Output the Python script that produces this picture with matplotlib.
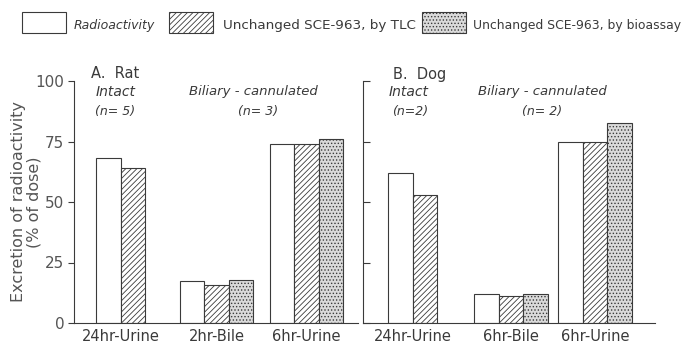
import numpy as np
import matplotlib.pyplot as plt

series = ['Radioactivity', 'Unchanged SCE-963, by TLC', 'Unchanged SCE-963, by bioassay']

rat_labels = ['24hr-Urine', '2hr-Bile', '6hr-Urine']
rat_radio = [68, 17.5, 74]
rat_tlc = [64, 15.7, 74]
rat_bio = [None, 17.6, 76]

dog_labels = ['24hr-Urine', '6hr-Bile', '6hr-Urine']
dog_radio = [62, 12, 75]
dog_tlc = [53, 11, 75]
dog_bio = [None, 12, 82.5]

plt.rcParams['font.family'] = 'DejaVu Sans'
plt.rcParams['hatch.linewidth'] = 0.6

ink = '#3a3a3a'
soft = '#555555'
styles = [dict(facecolor='white', hatch=None),
          dict(facecolor='white', hatch='//////'),
          dict(facecolor='#dadada', hatch='.....')]

fig = plt.figure(figsize=(6.82, 3.43), dpi=100)
W, H = 682.0, 343.0
ax1 = fig.add_axes([74 / W, 20 / H, 284 / W, 242 / H])
ax2 = fig.add_axes([363 / W, 20 / H, 292 / W, 242 / H])


def draw(ax, labels, radio, tlc, bio, starts, xmax):
    for s, vals in enumerate([radio, tlc, bio]):
        for i, v in enumerate(vals):
            if v is None:
                continue
            ax.bar(starts[i] + s, v, width=1.0, align='edge',
                   edgecolor=ink, linewidth=0.8, **styles[s])
    centers = []
    for i in range(len(labels)):
        n = 2 if bio[i] is None else 3
        centers.append(starts[i] + n / 2)
    ax.set_xticks(centers)
    ax.set_xticklabels(labels, fontsize=10.5, color=ink)
    ax.tick_params(axis='x', length=0, pad=4)
    ax.set_xlim(0, xmax)
    ax.set_ylim(0, 100)
    for sp in ['top', 'right']:
        ax.spines[sp].set_visible(False)
    for sp in ['left', 'bottom']:
        ax.spines[sp].set_linewidth(0.8)
        ax.spines[sp].set_color(ink)


draw(ax1, rat_labels, rat_radio, rat_tlc, rat_bio, [0.9, 4.33, 8.0], 11.6)
draw(ax2, dog_labels, dog_radio, dog_tlc, dog_bio, [1.02, 4.53, 7.96], 11.9)

ax1.set_yticks([0, 25, 50, 75, 100])
ax1.set_yticklabels(['0', '25', '50', '75', '100'], fontsize=11, color=soft)
ax1.tick_params(axis='y', direction='out', length=4, width=0.8, colors=ink, pad=3)
for t in ax1.get_yticklabels():
    t.set_color(soft)
ax1.set_ylabel('Excretion of radioactivity\n(% of dose)', fontsize=11.5,
               color=soft, linespacing=1.0)
ax1.yaxis.set_label_coords(-0.115, 0.5)

ax2.set_yticks([0, 25, 50, 75, 100])
ax2.set_yticklabels([])
ax2.tick_params(axis='y', direction='in', length=5, width=0.8, colors=ink)


# group annotations
def note(x, y, s, italic=True, size=9):
    fig.text(x / W, 1 - y / H, s, ha='center', va='center', fontsize=size,
             style='italic' if italic else 'normal', color=ink)


note(116, 92, 'Intact', size=10)
note(115, 111, '(n= 5)', size=9)
note(253, 92, 'Biliary - cannulated', size=9.5)
note(258, 111, '(n= 3)', size=9)
note(409, 92, 'Intact', size=10)
note(410, 111, '(n=2)', size=9)
note(542, 92, 'Biliary - cannulated', size=9.5)
note(542, 111, '(n= 2)', size=9)

fig.text(91 / W, 1 - 74 / H, 'A.  Rat', ha='left', va='center', fontsize=10.5, color=ink)
fig.text(393 / W, 1 - 74 / H, 'B.  Dog', ha='left', va='center', fontsize=10.5, color=ink)

# legend row
boxes = [(22, 66, 74), (169, 213, 223), (422, 466, 473)]
legend_fonts = [(True, 9), (False, 9.7), (False, 8.9)]
for (x0, x1, tx), st, label, (ital, fs) in zip(boxes, styles, series, legend_fonts):
    ax_l = fig.add_axes([x0 / W, 1 - 33 / H, (x1 - x0) / W, 21 / H])
    ax_l.add_patch(plt.Rectangle((0, 0), 1, 1, edgecolor=ink, linewidth=0.8,
                                 transform=ax_l.transAxes, clip_on=False, **st))
    ax_l.axis('off')
    fig.text(tx / W, 1 - 25 / H, label, ha='left', va='center', fontsize=fs,
             style='italic' if ital else 'normal', color=ink)

fig.savefig('out.png', dpi=100)
